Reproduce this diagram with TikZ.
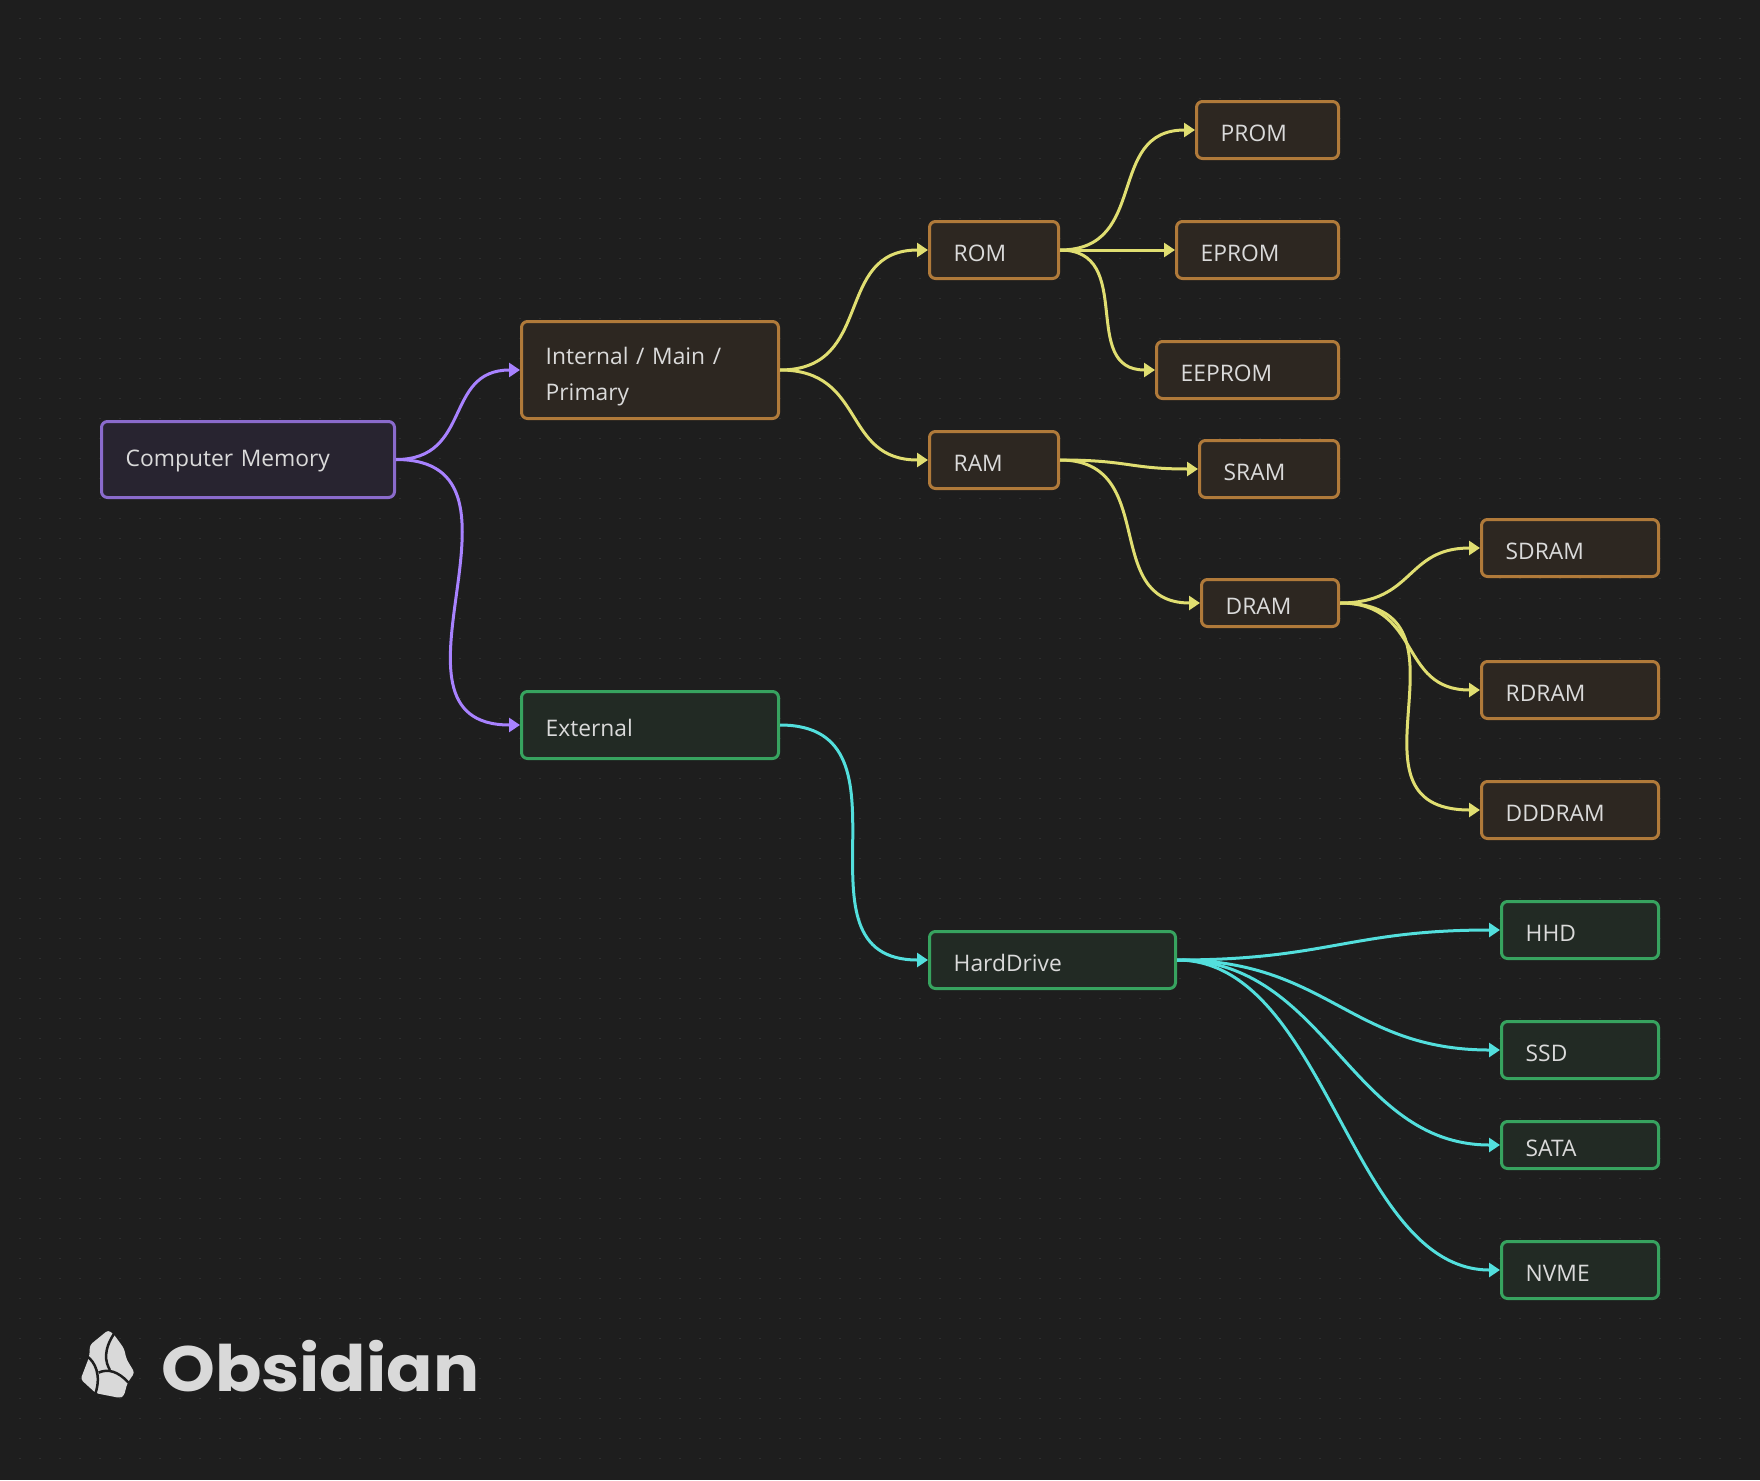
\documentclass[tikz,border=0pt]{standalone}
\usepackage{fontspec}
\setmainfont{Open Sans}
\newfontfamily\logofont[FakeStretch=1.07]{Poppins Bold}
\usetikzlibrary{arrows.meta}
\definecolor{canvasbg}{HTML}{1E1E1E}
\definecolor{griddot}{HTML}{2E2E2E}
\definecolor{labeltxt}{HTML}{DADADA}
\definecolor{logotxt}{HTML}{D9D9D9}
\definecolor{purpleedge}{HTML}{A882FF}
\definecolor{yellowedge}{HTML}{E0DE71}
\definecolor{cyanedge}{HTML}{53DFDD}
\definecolor{purpleline}{HTML}{8A6BCC}
\definecolor{purplefill}{HTML}{282430}
\definecolor{orangeline}{HTML}{B07A3A}
\definecolor{orangefill}{HTML}{2D2721}
\definecolor{greenline}{HTML}{37A35F}
\definecolor{greenfill}{HTML}{222A24}
\begin{document}
\begin{tikzpicture}[
    x=1pt, y=-1pt,
    box/.style={rectangle, rounded corners=6pt, line width=3pt, anchor=north west, align=left,
        xshift=-1pt, yshift=1pt, inner xsep=24.2pt, inner ysep=0pt, text height=23.6pt, text depth=0pt,
        text=labeltxt, font=\fontsize{22.8}{36}\selectfont},
    boxsize/.style 2 args={text width=#1pt-49.4pt, minimum height=#2pt-1pt},
    purplebox/.style={box, draw=purpleline, fill=purplefill},
    orangebox/.style={box, draw=orangeline, fill=orangefill},
    greenbox/.style={box, draw=greenline, fill=greenfill},
    edge/.style={line width=3pt, -{Triangle[length=11pt,width=14pt]}},
    near/.style={out=0, in=180, looseness=1.28},
    far/.style={out=0, in=180, distance=150pt}
]

% Tlo i siatka kropek
\fill[canvasbg] (0,0) rectangle (1760,1480);
\useasboundingbox (0,0) rectangle (1760,1480);
\foreach \i in {1,...,87} {
    \foreach \j in {1,...,73} {
        \fill[griddot] (20*\i-0.7,20*\j-0.7) rectangle +(1.4,-1.4);
    }
}

% Lewa kolumna
\node[purplebox, boxsize={294}{77}, text height=14.6pt] (memory) at (101,421) {Computer Memory};
\node[orangebox, boxsize={258}{98}, text height=30.4pt, text depth=41pt] (internal) at (521,321) {Internal / Main /\\Primary};
\node[greenbox, boxsize={258}{68}] (external) at (521,691) {External};

% Pamiec wewnetrzna
\node[orangebox, boxsize={130}{58}] (rom) at (929,221) {ROM};
\node[orangebox, boxsize={130}{58}] (ram) at (929,431) {RAM};
\node[orangebox, boxsize={143}{58}] (prom) at (1196,101) {PROM};
\node[orangebox, boxsize={163}{58}] (eprom) at (1176,221) {EPROM};
\node[orangebox, boxsize={183}{58}] (eeprom) at (1156,341) {EEPROM};
\node[orangebox, boxsize={140}{58}] (sram) at (1199,440) {SRAM};
\node[orangebox, boxsize={138}{48}] (dram) at (1201,579) {DRAM};
\node[orangebox, boxsize={178}{58}] (sdram) at (1481,519) {SDRAM};
\node[orangebox, boxsize={178}{58}] (rdram) at (1481,661) {RDRAM};
\node[orangebox, boxsize={178}{58}] (dddram) at (1481,781) {DDDRAM};

% Pamiec zewnetrzna
\node[greenbox, boxsize={247}{58}] (harddrive) at (929,931) {HardDrive};
\node[greenbox, boxsize={158}{58}] (hhd) at (1501,901) {HHD};
\node[greenbox, boxsize={158}{58}] (ssd) at (1501,1021) {SSD};
\node[greenbox, boxsize={158}{48}] (sata) at (1501,1121) {SATA};
\node[greenbox, boxsize={158}{58}] (nvme) at (1501,1241) {NVME};

% Polaczenia
\draw[edge, purpleedge] (memory.east) to[near] (internal.west);
\draw[edge, purpleedge] (memory.east) to[far, distance=155pt] (external.west);
\draw[edge, yellowedge] (internal.east) to[near] (rom.west);
\draw[edge, yellowedge] (internal.east) to[near] (ram.west);
\draw[edge, yellowedge] (rom.east) to[near] (prom.west);
\draw[edge, yellowedge] (rom.east) -- (eprom.west);
\draw[edge, yellowedge] (rom.east) to[near] (eeprom.west);
\draw[edge, yellowedge] (ram.east) to[near] (sram.west);
\draw[edge, yellowedge] (ram.east) to[near] (dram.west);
\draw[edge, yellowedge] (dram.east) to[near] (sdram.west);
\draw[edge, yellowedge] (dram.east) to[near] (rdram.west);
\draw[edge, yellowedge] (dram.east) to[far] (dddram.west);
\draw[edge, cyanedge] (external.east) to[far, distance=145pt] (harddrive.west);
\draw[edge, cyanedge] (harddrive.east) to[far] (hhd.west);
\draw[edge, cyanedge] (harddrive.east) to[far] (ssd.west);
\draw[edge, cyanedge] (harddrive.east) to[far] (sata.west);
\draw[edge, cyanedge] (harddrive.east) to[far] (nvme.west);

% Logo
\begin{scope}[shift={(60,1300)}, x=0.333pt, y=-0.333pt]
\fill[logotxt, rounded corners=3pt] (145,90) -- (163,105) -- (192,145) -- (200,178) -- (224,218)
    -- (202,250) -- (192,288) -- (180,294) -- (108,280) -- (62,238) -- (88,170) -- (90,135) -- cycle;
\draw[canvasbg, line width=2.5pt] (163,100) .. controls (130,150) and (135,185) .. (150,210);
\draw[canvasbg, line width=2.5pt] (80,168) .. controls (105,185) and (125,225) .. (106,282);
\draw[canvasbg, line width=2.5pt] (116,218) .. controls (145,205) and (175,215) .. (206,248);
\end{scope}
\node[text=logotxt, font=\logofont\fontsize{64}{64}\selectfont, anchor=base west, inner sep=0pt]
    (logo) at (161,1391) {Obsidian};

\end{tikzpicture}
\end{document}
